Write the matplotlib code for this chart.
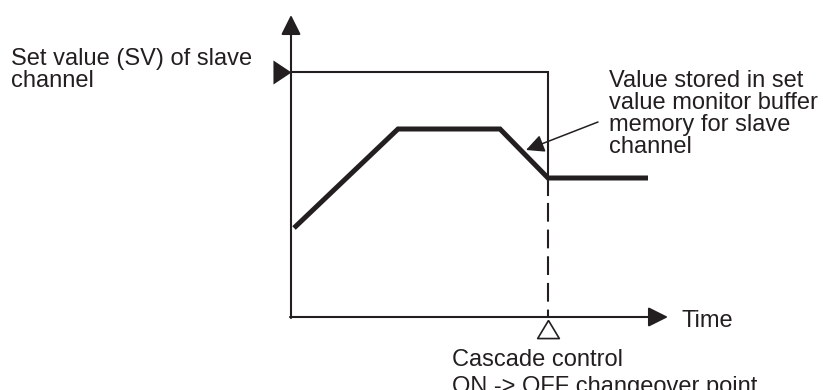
import matplotlib
matplotlib.use('Agg')
import matplotlib.pyplot as plt

INK = '#231f20'

# set value monitor of the slave channel (time, value in drawing units)
time_pts = [3, 107, 209, 257, 357]
sv_monitor = [89, 188, 188, 139, 139]

sv_slave = 245          # SV of slave channel while cascade control is ON
t_changeover = 257      # cascade control ON -> OFF
dash_from = 122         # thin line turns dashed below this value
t_axis_end = 377
v_axis_end = 302

label_sv = 'Set value (SV) of slave\nchannel'
label_monitor = 'Value stored in set\nvalue monitor buffer\nmemory for slave\nchannel'
label_time = 'Time'
label_change = 'Cascade control\nON -> OFF changeover point'

plt.rcParams['font.family'] = ['Liberation Sans', 'DejaVu Sans']
plt.rcParams['font.size'] = 17

fig = plt.figure(figsize=(8.23, 3.90), dpi=100)
ax = fig.add_axes([0, 0, 1, 1])
ax.set_xlim(-291, 532)
ax.set_ylim(-73, 317)
ax.axis('off')

# axes with arrow heads
axis_arrow = dict(arrowstyle='-|>,head_length=0.6,head_width=0.3', mutation_scale=20,
                  lw=1.5, color=INK, shrinkA=0, shrinkB=0)
ax.annotate('', xy=(0, v_axis_end), xytext=(0, -1), arrowprops=axis_arrow)
ax.annotate('', xy=(t_axis_end, 0), xytext=(-1, 0), arrowprops=axis_arrow)

# SV of slave channel (thin), dashed after the changeover
ax.plot([0, t_changeover, t_changeover], [sv_slave, sv_slave, dash_from],
        color=INK, lw=1.5, solid_joinstyle='miter')
ax.plot([t_changeover, t_changeover], [dash_from, 0], color=INK, lw=1.5,
        linestyle=(9, (9, 3.8)))

# stored monitor value (thick)
ax.plot(time_pts, sv_monitor, color=INK, lw=3.6, solid_joinstyle='miter',
        solid_capstyle='butt')

# filled marker on the vertical axis at SV
ax.plot(0, sv_slave, marker=[(0, 0), (-0.75, 0.5), (-0.75, -0.5), (0, 0)],
        ms=26, color=INK, mew=0, clip_on=False)
# open marker under the changeover point
ax.plot(t_changeover, -3, marker=[(0, 0), (-0.6, -1), (0.6, -1), (0, 0)],
        ms=26, mfc='white', mec=INK, mew=1.2, clip_on=False)

# callout to the monitor value
ax.annotate('', xy=(235, 167), xytext=(307, 195),
            arrowprops=dict(arrowstyle='-|>,head_length=0.55,head_width=0.27',
                            mutation_scale=20, lw=1.1, color=INK,
                            shrinkA=0, shrinkB=0))

# multi-line labels: y is the baseline of the last line
ax.text(-280, 230, label_sv, ha='left', va='baseline', linespacing=1.0, color=INK)
ax.text(318, 164, label_monitor, ha='left', va='baseline', linespacing=1.0, color=INK)
ax.text(391, -10, label_time, ha='left', va='baseline', color=INK)
ax.text(161, -76, label_change, ha='left', va='baseline', linespacing=1.27, color=INK)

fig.savefig('out.png', dpi=100)
